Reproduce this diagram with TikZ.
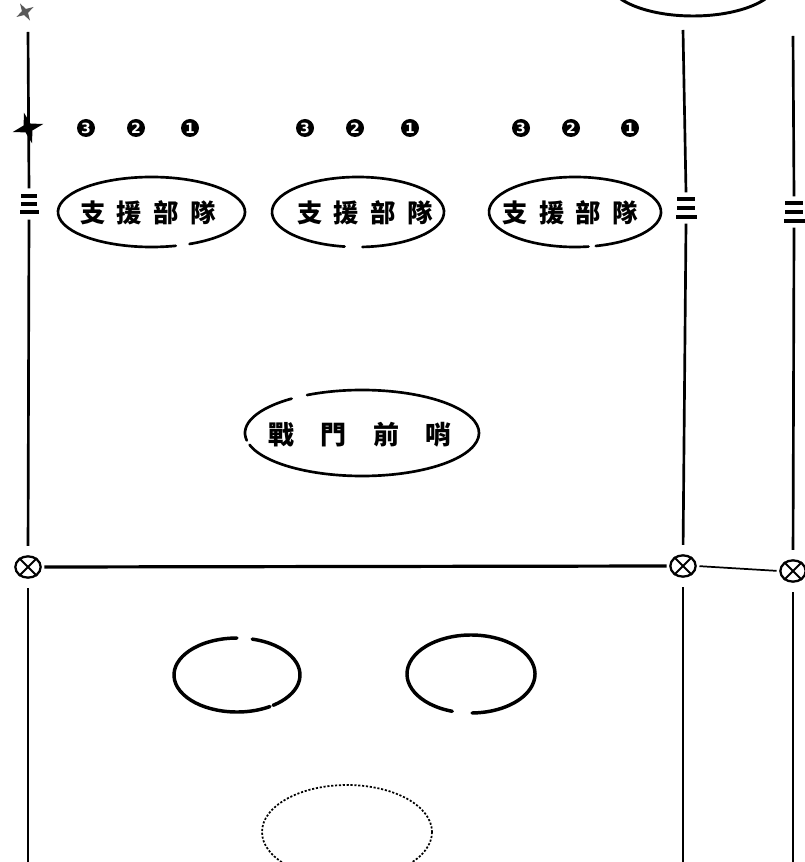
\documentclass[tikz,border=0pt]{standalone}
\usepackage{fontspec}
\newfontfamily\cjk{Noto Sans CJK TC}
\newfontfamily\dejavu{DejaVu Sans}
\usetikzlibrary{shapes.geometric}
\begin{document}
\begin{tikzpicture}[x=0.75pt,y=-0.75pt,
  wire/.style={line width=2pt},
  mainrow/.style={line width=2.4pt},
  thinrow/.style={line width=1.3pt},
  oval/.style={line width=2pt, line cap=round},
  heavyoval/.style={line width=2.6pt, line cap=round},
  dotoval/.style={line width=1.3pt, dash pattern=on 1.6pt off 1.3pt},
  crossmark/.style={draw, ellipse, line width=1.7pt, minimum width=19pt, minimum height=16pt, inner sep=0pt},
  eqmark/.style={minimum width=15pt, minimum height=23pt, inner sep=0pt},
  bar/.style={line width=2.5pt},
  num/.style={circle, fill=black, text=white, minimum size=13.5pt, inner sep=0pt, font=\dejavu\bfseries\fontsize{10.5}{10.5}\selectfont},
  unit/.style={font=\cjk\bfseries\fontsize{19}{19}\selectfont, inner sep=0pt},
  splat/.style={star, star points=4, star point ratio=3.2, fill=black, inner sep=0pt},
]
\useasboundingbox (0,0) rectangle (805,862);
\fill[white] (0,0) rectangle (805,862);
\clip (0,0) rectangle (805,862);

% top ellipse
\draw[line width=2.2pt] (693,-20) ellipse [x radius=85, y radius=36];

% line ends
\coordinate (Ltop) at (28,32);
\coordinate (Lbot) at (28,875);
\coordinate (Mtop) at (683,30);
\coordinate (Mbot) at (683,875);
\coordinate (Rtop) at (793,36);
\coordinate (Rbot) at (793,875);

% wire symbols
\node[eqmark] (Leq) at (29,204) {};
\node[eqmark] (Meq) at (686,208) {};
\node[eqmark] (Req) at (794,212) {};
\draw[bar] (Leq) ++(-8,-8) -- ++(16,0) ++(-16,8) -- ++(16,0) ++(-17,8) -- ++(19,0);
\draw[bar] (Meq) ++(-9,-9) -- ++(18,0) ++(-18,9) -- ++(18,0) ++(-19,9) -- ++(21,0);
\draw[bar] (Req) ++(-9,-9) -- ++(18,0) ++(-18,9) -- ++(18,0) ++(-19,9) -- ++(21,0);

% crossed circles
\node[crossmark] (Lx) at (28,567) {};
\node[crossmark] (Mx) at (683,566) {};
\node[crossmark] (Rx) at (793,571) {};
\foreach \n in {Lx,Mx,Rx}{
  \draw[line width=1.5pt] (\n.45) -- (\n.225) (\n.135) -- (\n.315);
}

% vertical lines
\draw[wire] (Ltop) -- (Leq.north);
\draw[wire, shorten >=7pt] (Leq.south) -- (Lx.north);
\draw[wire, shorten <=7pt] (Lx.south) -- (Lbot);
\draw[wire] (Mtop) -- (Meq.north);
\draw[wire, shorten >=7pt] (Meq.south) -- (Mx.north);
\draw[wire, shorten <=7pt] (Mx.south) -- (Mbot);
\draw[wire] (Rtop) -- (Req.north);
\draw[wire, shorten >=7pt] (Req.south) -- (Rx.north);
\draw[wire, shorten <=7pt] (Rx.south) -- (Rbot);

% horizontal lines
\draw[mainrow, shorten <=2pt, shorten >=2pt] (Lx.east) -- (Mx.west);
\draw[thinrow, shorten <=2pt, shorten >=2pt] (Mx.east) -- (Rx.west);

% star marks
\node[splat, minimum size=24pt, rotate=15] (st1) at (28,128) {};
\node[splat, minimum size=15pt, rotate=30, fill=black!65] (st0) at (25,12) {};

% numbered markers
\node[num] (a3) at (86,128) {3};
\node[num] (a2) at (136,128) {2};
\node[num] (a1) at (190,128) {1};
\node[num] (b3) at (305,128) {3};
\node[num] (b2) at (355,128) {2};
\node[num] (b1) at (410,128) {1};
\node[num] (c3) at (521,128) {3};
\node[num] (c2) at (571,128) {2};
\node[num] (c1) at (630,128) {1};

% support units
\node[unit] (s1) at (148,213) {支\hspace{8.5pt}援\hspace{8.5pt}部\hspace{8.5pt}隊};
\node[unit] (s2) at (365,213) {支\hspace{8.5pt}援\hspace{8.5pt}部\hspace{8.5pt}隊};
\node[unit] (s3) at (570,213) {支\hspace{8.5pt}援\hspace{8.5pt}部\hspace{8.5pt}隊};
\coordinate (e1) at (151.5,212);
\coordinate (e2) at (358,212);
\coordinate (e3) at (575,212);
\draw[oval] (e1) ++(75:93.5 and 35) arc[start angle=75, end angle=426, x radius=93.5, y radius=35];
\draw[oval] (e2) ++(99:86 and 35) arc[start angle=99, end angle=447, x radius=86, y radius=35];
\draw[oval] (e3) ++(81:86 and 35) arc[start angle=81, end angle=436, x radius=86, y radius=35];

% outpost
\node[unit, font=\cjk\bfseries\fontsize{19.5}{19.5}\selectfont] (op) at (360,435) {戰\hspace{20pt}門\hspace{20pt}前\hspace{20pt}哨};
\coordinate (eo) at (362,433);
\draw[oval] (eo) ++(242:117 and 43) arc[start angle=242, end angle=524, x radius=117, y radius=43];
\draw[oval] (eo) ++(530:117 and 43) arc[start angle=530, end angle=593, x radius=117, y radius=43];

% lower ellipses
\coordinate (el) at (237,675);
\coordinate (er) at (471,674);
\draw[heavyoval] (el) ++(284:63 and 37) arc[start angle=284, end angle=415, x radius=63, y radius=37];
\draw[heavyoval] (el) ++(418.5:63 and 37) arc[start angle=418.5, end angle=630, x radius=63, y radius=37];
\draw[heavyoval] (er) ++(107:64 and 39) arc[start angle=107, end angle=449, x radius=64, y radius=39];

% dotted ellipse
\draw[dotoval] (347,832) ellipse [x radius=85, y radius=47];
\end{tikzpicture}
\end{document}
